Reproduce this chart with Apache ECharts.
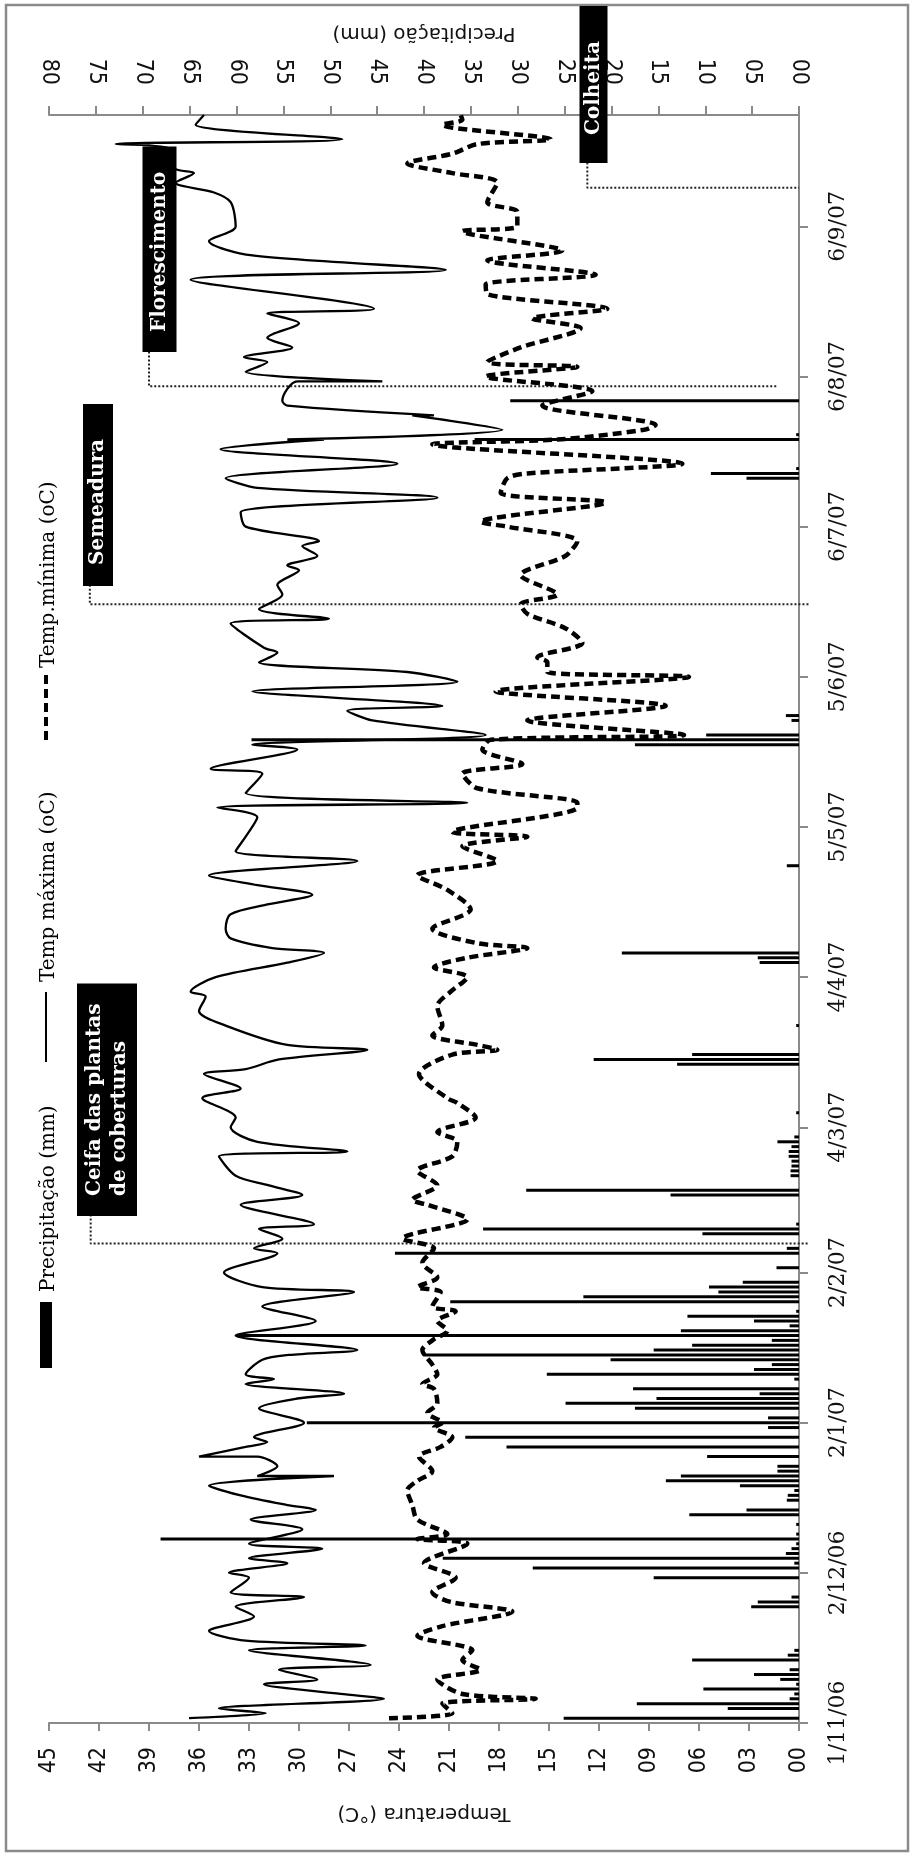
<!DOCTYPE html>
<html>
<head>
<meta charset="utf-8">
<title>Temperatura e precipitação</title>
<script src="https://cdn.jsdelivr.net/npm/echarts@6/dist/echarts.min.js"></script>
<style>
    html, body { margin: 0; padding: 0; background: #fff; }
    #chart { width: 913px; height: 1854px; }
</style>
</head>
<body>
<div id="chart"></div>
<script>
// eixo de datas: dias contados a partir de 1/11/06
var lastDay = 332;
var tickDays = [0, 31, 62, 93, 123, 154, 185, 216, 247, 278, 309];
var tickLabels = ['1/11/06', '2/12/06', '2/1/07', '2/2/07', '4/3/07', '4/4/07',
    '5/5/07', '5/6/07', '6/7/07', '6/8/07', '6/9/07'];

// temperatura maxima (oC) - picos e vales
var tmaxDays = [0.5, 1.7, 2.9, 4.8, 6.2, 7.6, 9.3, 10.7, 11.5, 14.5, 15.7, 16.9, 19.0, 21.7, 24.1, 25.5,
    27.2, 29.6, 30.7, 32.7, 33.8, 35.5, 36.5, 39.6, 42.1, 43.6, 44.8, 47.2, 49.3, 50.5, 51.4, 53.1,
    54.5, 55.4, 56.9, 58.4, 59.3, 62.4, 65.1, 66.9, 68.1, 69.6, 70.5, 72.0, 74.5, 75.5, 77.2, 80.2,
    83.1, 86.2, 89.3, 90.3, 93.4, 96.9, 97.6, 99.6, 101.7, 103.4, 107.2, 109.3, 111.3, 112.7, 116.5,
    118.1, 120.3, 123.1, 124.8, 128.6, 131.3, 133.7, 134.7, 136.9, 139.3, 140.0, 144.4, 146.8, 150.0,
    151.3, 154.4, 157.2, 158.6, 159.6, 162.0, 163.7, 166.5, 169.3, 171.0, 172.7, 174.8, 178.0, 180.3,
    183.0, 186.5, 188.6, 190.1, 192.3, 196.1, 197.2, 200.8, 202.4, 204.4, 206.5, 208.5, 210.3, 212.7,
    215.1, 216.5, 218.5, 220.6, 221.6, 226.5, 227.8, 229.9, 233.4, 234.7, 237.5, 238.9, 240.6, 243.0,
    244.3, 246.8, 249.6, 252.7, 255.1, 256.5, 260.0, 263.4, 264.5, 265.4, 267.4, 269.6, 270.3, 272.0,
    273.4, 276.5, 277.3, 278.5, 280.9, 282.3, 283.7, 285.8, 288.5, 290.9, 292.3, 297.7, 299.6, 303.0,
    306.1, 308.5, 313.7, 315.8, 317.5, 319.8, 320.7, 324.7, 325.9, 327.1, 329.9, 332.3];
var tmaxValues = [36.6, 32.0, 34.8, 24.9, 27.5, 32.1, 28.9, 31.2, 25.7, 33.0, 26.0, 33.2, 35.4, 32.7, 33.8, 29.7,
    34.1, 33.0, 34.2, 30.7, 33.0, 28.6, 33.0, 29.8, 32.9, 29.0, 30.7, 33.5, 35.4, 27.9, 32.5, 31.3,
    32.5, 36.0, 33.2, 31.9, 32.7, 29.7, 32.4, 30.1, 27.3, 33.2, 31.5, 33.2, 32.2, 30.6, 26.5, 33.8,
    29.0, 32.2, 26.7, 32.2, 34.5, 31.3, 32.7, 31.0, 32.4, 29.1, 33.5, 29.8, 31.8, 33.8, 34.8,
    27.1, 32.5, 34.1, 33.8, 35.8, 33.5, 35.7, 33.2, 31.2, 25.9, 30.7, 34.4, 36.0, 35.6,
    36.5, 35.0, 30.7, 28.5, 31.6, 34.1, 34.4, 34.1, 31.9, 29.2, 32.5, 35.4, 26.5, 33.8,
    33.2, 32.5, 34.9, 19.9, 33.2, 32.2, 35.3, 30.1, 32.8, 18.8, 25.6, 27.1, 21.4, 32.8,
    20.5, 23.5, 32.4, 31.3, 32.1, 34.1, 28.2, 32.4, 31.0, 31.3, 30.0, 30.7, 28.9, 29.8,
    28.8, 33.2, 33.5, 21.7, 32.5, 34.4, 24.1, 34.7, 28.5, 30.7, 17.8, 23.2, 21.9, 30.7,
    31.0, 30.1, 25.0, 33.2, 31.9, 33.3, 30.4, 31.9, 30.0, 31.9, 25.5, 36.5, 21.2, 32.8,
    35.4, 33.8, 34.1, 35.1, 37.4, 36.3, 37.5, 37.7, 41.0, 27.4, 36.2, 35.7];

// temperatura minima (oC)
var tminDays = [0.7, 1.9, 3.6, 4.6, 5.5, 8.6, 11.4, 13.4, 15.2, 17.6, 19.6, 23.4, 24.8, 26.5, 29.6, 33.1,
    36.5, 37.6, 38.6, 42.1, 44.8, 47.6, 49.6, 51.7, 54.5, 56.9, 58.9, 60.7, 62.3, 64.1, 65.8, 69.3,
    70.3, 72.0, 74.1, 76.9, 78.9, 81.0, 83.1, 84.5, 85.8, 88.6, 90.3, 92.3, 95.2, 97.6, 100.3, 104.1,
    106.9, 108.2, 110.7, 114.1, 117.2, 119.6, 121.7, 125.1, 127.9, 129.3, 133.7, 137.5, 139.3, 140.3,
    141.7, 144.4, 147.5, 150.6, 153.8, 155.5, 157.9, 159.9, 161.3, 164.4, 167.5, 172.0, 174.8, 177.9,
    181.0, 183.0, 184.4, 188.5, 190.3, 192.7, 195.8, 197.9, 200.6, 202.7, 204.4, 206.6, 209.9, 212.7,
    215.6, 216.8, 218.9, 220.3, 222.7, 225.8, 228.5, 230.9, 232.7, 236.5, 240.6, 243.7, 246.8, 248.2,
    252.0, 254.4, 256.8, 258.2, 259.8, 263.7, 264.7, 266.5, 268.2, 272.3, 275.4, 278.2, 279.6, 281.3,
    283.7, 288.2, 289.6, 292.3, 295.4, 297.1, 299.2, 302.3, 304.0, 307.5, 308.9, 311.9, 313.7, 317.8,
    319.6, 321.6, 324.0, 325.7, 327.1, 329.9, 331.3, 332.3];
var tminValues = [24.6, 20.8, 21.4, 15.8, 20.2, 21.7, 19.1, 20.2, 19.6, 22.9, 21.4, 17.2, 20.9, 22.0, 20.6, 22.5,
    19.9, 22.9, 21.1, 22.9, 23.2, 23.5, 22.9, 22.0, 22.8, 21.5, 20.8, 21.9, 21.4, 22.3, 21.7, 21.9,
    22.6, 21.7, 22.0, 22.6, 22.0, 21.1, 21.7, 20.6, 22.0, 21.5, 22.9, 21.7, 22.6, 21.9, 23.8, 19.9,
    22.3, 23.2, 21.7, 22.9, 20.8, 20.5, 21.7, 19.4, 20.5, 21.1, 22.8, 20.8, 18.1, 19.3,
    22.0, 21.4, 21.7, 20.9, 19.9, 21.9, 19.9, 16.3, 19.3, 22.0, 19.7, 21.1, 22.9, 18.1,
    20.2, 16.3, 20.8, 13.3, 13.3, 19.3, 20.2, 16.6, 19.0, 18.5, 6.9, 16.3, 8.0, 18.2,
    6.6, 15.1, 15.1, 15.7, 13.0, 14.0, 16.3, 16.7, 14.5, 16.7, 14.0, 13.3, 17.5, 19.1,
    11.6, 17.9, 17.5, 16.3, 7.0, 22.0, 14.5, 9.3, 8.6, 15.4, 12.4, 18.8, 13.3, 18.7,
    16.7, 13.1, 16.0, 11.5, 18.7, 18.8, 12.2, 18.7, 14.2, 20.2, 16.9, 16.9, 18.7, 18.1,
    20.8, 23.5, 20.8, 19.3, 14.9, 21.4, 20.2, 20.3];

// precipitacao diaria (mm)
var rainDays = [1, 3, 4, 5, 6, 7, 8, 9, 10, 11, 13, 14, 15, 24, 25, 26, 30, 32, 33, 34, 35, 36, 37, 38, 39, 41,
    43, 44, 46, 47, 48, 49, 50, 51, 52, 53, 55, 57, 59, 61, 62, 63, 65, 66, 67, 68, 69, 71, 72, 73, 74,
    75, 76, 77, 78, 79, 80, 81, 82, 83, 84, 85, 87, 88, 89, 90, 91, 94, 97, 98, 101, 102, 103, 109, 110,
    113, 114, 115, 116, 117, 118, 119, 120, 121, 126, 136, 137, 138, 144, 157, 158, 159, 177, 202, 203,
    204, 207, 208, 257, 258, 259, 265, 266, 273];
var rainValues = [25.1, 7.6, 17.3, 1.0, 0.5, 10.2, 0.3, 2.0, 4.8, 1.0, 11.4, 1.2, 0.5, 5.1, 4.4, 0.8, 15.5, 28.4,
    0.5, 38.0, 1.4, 0.8, 0.3, 68.1, 0.3, 0.3,
    11.7, 5.6, 1.3, 1.2, 0.5, 6.3, 14.2, 12.6, 2.3, 2.3, 9.8, 31.2, 35.6, 3.3, 52.5, 3.3, 17.5, 24.9, 15.2,
    4.2, 17.7, 0.5, 26.9, 4.8, 2.9, 20.1, 40.1, 15.5, 11.4, 2.9, 60.0, 12.6, 1.0, 4.8, 11.9, 0.3, 37.2,
    23.0, 8.6, 9.6, 6.0, 2.4, 43.1, 1.3, 10.3, 33.7, 0.3, 13.7, 29.1, 0.9, 0.9, 0.8, 0.8, 1.1, 1.1, 0.8,
    2.3, 0.5, 0.3, 13.0, 21.9, 11.4, 0.3, 4.2, 4.4, 18.9, 1.3, 17.5, 58.4, 9.9, 0.8, 1.4, 5.6, 9.4, 0.3,
    34.6, 0.3, 30.8];

// eventos: dia da linha, temperatura do trecho vertical, dia da caixa, fim da linha
var eventNames = ['Ceifa das plantas\nde coberturas', 'Semeadura', 'Florescimento', 'Colheita'];
var eventDays = [99.4, 231.3, 276.4, 317.0];
var eventBoxDays = [104.9, 235.2, 283.5, 322.7];
var eventTemps = [42.5, 42.55, 39.0, 12.7];
var eventEnds = [-0.6, -0.6, 1.3, 0];

function pairs(xs, ys) {
    var out = [];
    for (var i = 0; i < xs.length; i++) {
        out.push([ys[i], xs[i]]);
    }
    return out;
}

function pad2(v) {
    return (v < 10 ? '0' : '') + v;
}

function isTick(index) {
    return tickDays.indexOf(index) >= 0;
}

var days = [];
for (var d = 0; d <= lastDay; d++) {
    days.push(d);
}

var axisGray = '#8a8a8a';
var serif = "'DejaVu Serif', 'Liberation Serif', serif";
var sans = "'DejaVu Sans', 'Liberation Sans', sans-serif";
var narrow = "'DejaVu Sans Condensed', 'Liberation Sans Narrow', 'DejaVu Sans', sans-serif";

var myChart = echarts.init(document.getElementById('chart'));

var eventSeries = [];
for (var k = 0; k < eventNames.length; k++) {
    eventSeries.push({
        name: 'evento' + k,
        type: 'line',
        xAxisIndex: 0,
        yAxisIndex: 0,
        data: [
            [eventTemps[k], eventBoxDays[k]],
            [eventTemps[k], eventDays[k]],
            [eventEnds[k], eventDays[k]]
        ],
        symbol: 'none',
        clip: false,
        silent: true,
        z: 3,
        lineStyle: {color: '#222', width: 2, type: [2, 2]}
    });
}

var option = {
    animation: false,
    backgroundColor: '#fff',
    grid: {left: 49, right: 114, top: 115, bottom: 131, containLabel: false},
    xAxis: [
        {
            type: 'value',
            min: 0,
            max: 45,
            interval: 3,
            inverse: true,
            position: 'bottom',
            name: 'Temperatura (°C)',
            nameLocation: 'middle',
            nameRotate: 180,
            nameGap: 80,
            nameTextStyle: {fontFamily: sans, fontSize: 20, color: '#111'},
            axisLine: {show: true, onZero: false, lineStyle: {color: axisGray, width: 2}},
            axisTick: {show: true, length: 8, lineStyle: {color: axisGray, width: 2}},
            axisLabel: {rotate: 90, margin: 24, fontFamily: narrow, fontSize: 23, color: '#111', formatter: pad2},
            splitLine: {show: false}
        },
        {
            type: 'value',
            min: 0,
            max: 80,
            interval: 5,
            inverse: true,
            position: 'top',
            name: 'Precipitação (mm)',
            nameLocation: 'middle',
            nameRotate: 180,
            nameGap: 72,
            nameTextStyle: {fontFamily: sans, fontSize: 20, color: '#111'},
            axisLine: {show: true, onZero: false, lineStyle: {color: axisGray, width: 2}},
            axisTick: {show: true, length: 9, lineStyle: {color: axisGray, width: 2}},
            axisLabel: {rotate: 90, margin: 30, fontFamily: narrow, fontSize: 23, color: '#111', formatter: pad2},
            splitLine: {show: false}
        }
    ],
    yAxis: {
        type: 'category',
        data: days,
        boundaryGap: false,
        position: 'right',
        axisLine: {show: true, onZero: false, lineStyle: {color: axisGray, width: 2}},
        axisTick: {show: true, interval: isTick, length: 9, lineStyle: {color: axisGray, width: 2}},
        axisLabel: {
            interval: isTick,
            rotate: 90,
            margin: 28,
            fontFamily: serif,
            fontSize: 22,
            color: '#111',
            formatter: function (value, index) {
                return tickLabels[tickDays.indexOf(index)];
            }
        },
        splitLine: {show: false}
    },
    series: [
        {
            name: 'Precipitação (mm)',
            type: 'bar',
            xAxisIndex: 1,
            yAxisIndex: 0,
            data: pairs(rainDays, rainValues),
            barWidth: 3,
            silent: true,
            itemStyle: {color: '#000'}
        },
        {
            name: 'Temp máxima (oC)',
            type: 'line',
            xAxisIndex: 0,
            yAxisIndex: 0,
            data: pairs(tmaxDays, tmaxValues),
            symbol: 'none',
            smooth: 0.3,
            silent: true,
            z: 4,
            lineStyle: {color: '#000', width: 2.3}
        },
        {
            name: 'Temp.mínima (oC)',
            type: 'line',
            xAxisIndex: 0,
            yAxisIndex: 0,
            data: pairs(tminDays, tminValues),
            symbol: 'none',
            smooth: 0.3,
            silent: true,
            z: 4,
            lineStyle: {color: '#000', width: 4.5, type: [9, 5]}
        }
    ].concat(eventSeries),
    graphic: [
        // moldura
        {type: 'rect', z: 0, silent: true, shape: {x: 6, y: 5, width: 902, height: 1846},
            style: {fill: null, stroke: axisGray, lineWidth: 2.5}},
        // legenda
        {type: 'rect', z: 100, shape: {x: 40, y: 1302, width: 12, height: 66}, style: {fill: '#000'}},
        {type: 'text', z: 100, x: 49, y: 1292, rotation: Math.PI / 2,
            style: {text: 'Precipitação (mm)', fontFamily: serif, fontSize: 20, fill: '#000',
                align: 'left', verticalAlign: 'middle'}},
        {type: 'line', z: 100, shape: {x1: 46, y1: 992, x2: 46, y2: 1062}, style: {stroke: '#000', lineWidth: 2}},
        {type: 'text', z: 100, x: 49, y: 982, rotation: Math.PI / 2,
            style: {text: 'Temp máxima (oC)', fontFamily: serif, fontSize: 20, fill: '#000',
                align: 'left', verticalAlign: 'middle'}},
        {type: 'line', z: 100, shape: {x1: 46, y1: 675, x2: 46, y2: 745},
            style: {stroke: '#000', lineWidth: 4, lineDash: [9, 5]}},
        {type: 'text', z: 100, x: 49, y: 668, rotation: Math.PI / 2,
            style: {text: 'Temp.mínima (oC)', fontFamily: serif, fontSize: 20, fill: '#000',
                align: 'left', verticalAlign: 'middle'}},
        // caixas dos eventos
        {type: 'text', z: 100, x: 107, y: 1216, rotation: Math.PI / 2,
            style: {text: eventNames[0], fontFamily: serif, fontWeight: 'bold', fontSize: 20, lineHeight: 25,
                fill: '#fff', backgroundColor: '#000', padding: [5, 20, 5, 20], align: 'left', verticalAlign: 'middle'}},
        {type: 'text', z: 100, x: 98, y: 586, rotation: Math.PI / 2,
            style: {text: eventNames[1], fontFamily: serif, fontWeight: 'bold', fontSize: 20,
                fill: '#fff', backgroundColor: '#000', padding: [5, 35, 5, 21], align: 'left', verticalAlign: 'middle'}},
        {type: 'text', z: 100, x: 159.5, y: 352, rotation: Math.PI / 2,
            style: {text: eventNames[2], fontFamily: serif, fontWeight: 'bold', fontSize: 20,
                fill: '#fff', backgroundColor: '#000', padding: [7, 25, 7, 20], align: 'left', verticalAlign: 'middle'}},
        {type: 'text', z: 100, x: 593.5, y: 163, rotation: Math.PI / 2,
            style: {text: eventNames[3], fontFamily: serif, fontWeight: 'bold', fontSize: 20,
                fill: '#fff', backgroundColor: '#000', padding: [4, 35, 4, 28], align: 'left', verticalAlign: 'middle'}}
    ]
};

myChart.setOption(option);
</script>
</body>
</html>
